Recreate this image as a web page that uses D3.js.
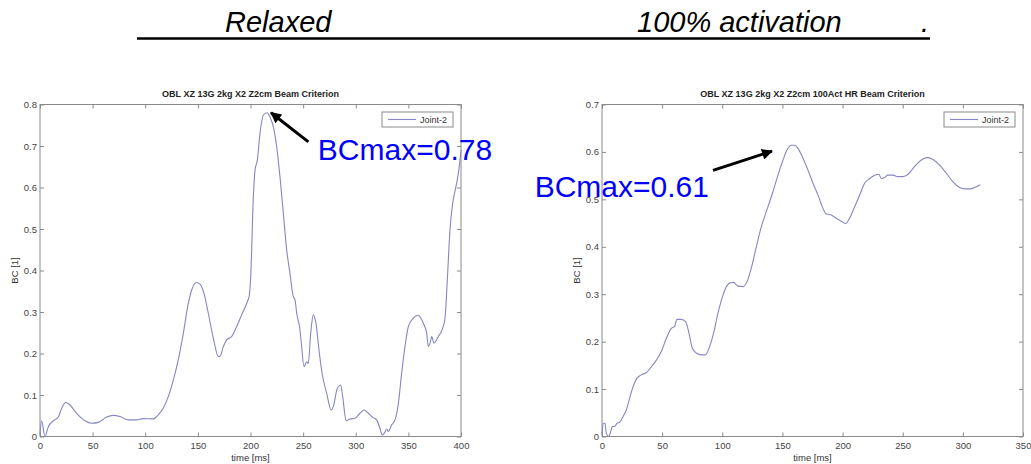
<!DOCTYPE html>
<html>
<head>
<meta charset="utf-8">
<script src="https://cdn.jsdelivr.net/npm/d3@7"></script>
<style>
  body { margin: 0; background: #fff; }
  svg { display: block; font-family: Arial, "Liberation Sans", sans-serif; }
</style>
</head>
<body>
<div id="chart"></div>
<script>
// Beam criterion (BC) vs time

var relaxedTime = [0, 1.5, 4.7, 8, 12.7, 17.4, 20.6, 24.4, 28.5, 34.8, 42.8, 49, 55.4, 63.3, 69.7, 76, 84, 91.8, 98, 107.7,
    112.4, 117, 121.9, 126.7, 131.4, 136.2, 140.3, 144.1, 148.8, 152, 155.8, 159.9, 164.7, 169.4, 171, 174.2, 177.4, 182.1,
    186.9, 191.6, 196.4, 198.9, 200.2, 202.7, 204.3, 206.5, 209, 212.2, 215.4, 218.5, 221.7, 224.9, 228, 231.2, 234.4,
    237.5, 240.7, 242.3, 243.9, 247, 248.6, 250.8, 253.4, 254.9, 257.2, 259.7, 262.2, 265.4, 268.6, 272.4, 276.5, 278.7,
    282.5, 285.7, 287.6, 290.8, 294.5, 299.3, 304, 307.8, 312, 316.1, 319.9, 322.4, 325.3, 327.2, 329.4, 331, 334.1, 337.3,
    340.5, 343.6, 346.8, 350, 354.7, 359.4, 362, 364.2, 367.4, 369, 370.6, 372.2, 374.3, 378.5, 382.6, 384.8, 387,
    389.5, 392.1, 395.2, 397.5, 400];
var relaxedBC = [0.005, 0.038, 0.0, 0.024, 0.038, 0.047, 0.068, 0.082, 0.076, 0.056, 0.038, 0.032, 0.034, 0.047, 0.051,
    0.048, 0.04, 0.04, 0.043, 0.0425, 0.052, 0.068, 0.096, 0.136, 0.185, 0.249, 0.313, 0.353, 0.371, 0.367, 0.345, 0.297,
    0.237, 0.193, 0.193, 0.217, 0.233, 0.241, 0.265, 0.293, 0.321, 0.341, 0.385, 0.578, 0.642, 0.666, 0.73, 0.774, 0.78,
    0.77, 0.746, 0.698, 0.626, 0.538, 0.449, 0.393, 0.337, 0.329, 0.297, 0.257, 0.217, 0.168, 0.18, 0.176, 0.249, 0.293,
    0.273, 0.201, 0.144, 0.104, 0.064, 0.072, 0.116, 0.124, 0.096, 0.038, 0.042, 0.044, 0.056, 0.064, 0.056, 0.046, 0.04,
    0.024, 0.004, 0.008, 0.018, 0.012, 0.028, 0.04, 0.08, 0.152, 0.217, 0.265, 0.285, 0.292, 0.285, 0.273, 0.249, 0.217,
    0.225, 0.241, 0.225, 0.241, 0.261, 0.285, 0.377, 0.497, 0.562, 0.602, 0.634, 0.69];

var activeTime = [0, 1.1, 2.5, 3.6, 5.5, 6.9, 8.6, 10.5, 12.5, 14.7, 17.5, 20.2, 23, 25.8, 29.1, 32.7, 36.9, 41, 45.2,
    49.3, 53.5, 57.6, 60.4, 62.3, 65.9, 69.5, 72.3, 75.1, 78.4, 82.6, 85.9, 89.5, 92.8, 96.4, 100.6, 103.4, 106.7, 109.4,
    113, 117.2, 120.5, 124.1, 128.3, 132.4, 136.6, 142.1, 146.3, 150.5, 153.8, 157.4, 160.2, 163, 166.5, 171.2, 175.4,
    179.6, 183.7, 186.5, 190.6, 194.8, 199, 202.6, 205.8, 210, 214.2, 218.3, 222.5, 226.7, 230.2, 232.2, 235, 237.7,
    241.9, 246, 250.2, 254.4, 258.5, 262.7, 266.9, 271, 275.2, 280.7, 286.3, 291.8, 297.3, 301.5, 305.6, 309.8, 314.5];
var activeBC = [0.0035, 0.028, 0.028, 0.007, 0, 0.007, 0.021, 0.021, 0.028, 0.03, 0.042, 0.056, 0.081, 0.105, 0.123, 0.13,
    0.135, 0.147, 0.161, 0.179, 0.207, 0.228, 0.232, 0.247, 0.247, 0.242, 0.218, 0.186, 0.176, 0.172, 0.172, 0.19, 0.218,
    0.26, 0.298, 0.316, 0.324, 0.325, 0.317, 0.316, 0.326, 0.355, 0.4, 0.442, 0.474, 0.516, 0.551, 0.583, 0.604, 0.614,
    0.614, 0.607, 0.59, 0.562, 0.534, 0.509, 0.481, 0.469, 0.467, 0.46, 0.454, 0.449, 0.46, 0.484, 0.509, 0.534, 0.544,
    0.551, 0.553, 0.544, 0.546, 0.551, 0.551, 0.548, 0.548, 0.553, 0.565, 0.577, 0.585, 0.588, 0.584, 0.572, 0.555,
    0.537, 0.525, 0.522, 0.522, 0.525, 0.531];

var relaxedXTicks = [0, 50, 100, 150, 200, 250, 300, 350, 400];
var relaxedYTicks = [0, 0.1, 0.2, 0.3, 0.4, 0.5, 0.6, 0.7, 0.8];
var activeXTicks = [0, 50, 100, 150, 200, 250, 300, 350];
var activeYTicks = [0, 0.1, 0.2, 0.3, 0.4, 0.5, 0.6, 0.7];

var headerLabels = ['Relaxed', '100% activation', '.'];
var chartTitles = ['OBL XZ 13G 2kg X2 Z2cm Beam Criterion', 'OBL XZ 13G 2kg X2 Z2cm 100Act HR Beam Criterion'];
var peakLabels = ['BCmax=0.78', 'BCmax=0.61'];
var legendLabel = 'Joint-2';

var W = 1031, H = 464;
var lineColor = '#8686c4';
var svg = d3.select('#chart').append('svg').attr('width', W).attr('height', H);

svg.append('defs').append('marker')
    .attr('id', 'arrowhead')
    .attr('viewBox', '0 0 10 10')
    .attr('refX', 9).attr('refY', 5)
    .attr('markerWidth', 13).attr('markerHeight', 11)
    .attr('markerUnits', 'userSpaceOnUse')
    .attr('orient', 'auto')
    .append('path').attr('d', 'M0,0 L10,5 L0,10 Z').attr('fill', '#000');

// Header with underline
var header = svg.append('g').attr('font-style', 'italic').attr('font-size', '29px').attr('fill', '#000');
header.append('text').attr('x', 225).attr('y', 32).text(headerLabels[0]);
header.append('text').attr('x', 637).attr('y', 32).text(headerLabels[1]);
header.append('text').attr('x', 921).attr('y', 32).text(headerLabels[2]);
svg.append('line').attr('x1', 137).attr('x2', 930).attr('y1', 38.5).attr('y2', 38.5)
    .attr('stroke', '#000').attr('stroke-width', 2.5);

function drawPanel(opt) {
    var left = opt.left, right = opt.right, top = 104.5, bottom = 436.5;
    var x = d3.scaleLinear().domain(opt.xDomain).range([left, right]);
    var y = d3.scaleLinear().domain(opt.yDomain).range([bottom, top]);
    var g = svg.append('g');

    g.append('rect')
        .attr('x', left).attr('y', top).attr('width', right - left).attr('height', bottom - top)
        .attr('fill', '#fff').attr('stroke', '#8a8a8a').attr('stroke-width', 1);

    function styleAxis(sel) {
        sel.select('.domain').remove();
        sel.selectAll('.tick line').attr('stroke', '#8a8a8a');
        sel.selectAll('text').attr('fill', '#444').attr('font-size', '9.5px').attr('font-family', 'Arial, "Liberation Sans", sans-serif');
    }

    g.append('g').attr('transform', 'translate(0,' + bottom + ')')
        .call(d3.axisBottom(x).tickValues(opt.xTicks).tickSizeInner(-4).tickSizeOuter(0).tickPadding(6).tickFormat(String))
        .call(styleAxis);
    g.append('g').attr('transform', 'translate(0,' + top + ')')
        .call(d3.axisTop(x).tickValues(opt.xTicks).tickSizeInner(-4).tickSizeOuter(0).tickFormat(''))
        .call(styleAxis);
    g.append('g').attr('transform', 'translate(' + left + ',0)')
        .call(d3.axisLeft(y).tickValues(opt.yTicks).tickSizeInner(-4).tickSizeOuter(0).tickPadding(3).tickFormat(String))
        .call(styleAxis);
    g.append('g').attr('transform', 'translate(' + right + ',0)')
        .call(d3.axisRight(y).tickValues(opt.yTicks).tickSizeInner(-4).tickSizeOuter(0).tickFormat(''))
        .call(styleAxis);

    // Title and axis labels
    g.append('text').attr('x', (left + right) / 2).attr('y', 97)
        .attr('text-anchor', 'middle').attr('font-size', '9px').attr('font-weight', 'bold').attr('fill', '#222')
        .text(opt.title);
    g.append('text').attr('x', (left + right) / 2).attr('y', 461)
        .attr('text-anchor', 'middle').attr('font-size', '9.5px').attr('fill', '#333')
        .text('time [ms]');
    g.append('text').attr('transform', 'translate(' + (left - 22) + ',' + ((top + bottom) / 2) + ') rotate(-90)')
        .attr('text-anchor', 'middle').attr('font-size', '9.5px').attr('fill', '#333')
        .text('BC [1]');

    // Series
    var pts = opt.time.map(function (t, i) { return [t, opt.bc[i]]; });
    g.append('path')
        .datum(pts)
        .attr('fill', 'none')
        .attr('stroke', lineColor)
        .attr('stroke-width', 1.1)
        .attr('d', d3.line().x(function (d) { return x(d[0]); }).y(function (d) { return y(d[1]); }).curve(d3.curveMonotoneX));

    // Legend
    var lx = right - 79, ly = 112;
    g.append('rect').attr('x', lx).attr('y', ly).attr('width', 71).attr('height', 15)
        .attr('fill', '#fff').attr('stroke', '#8a8a8a').attr('stroke-width', 1);
    g.append('line').attr('x1', lx + 6).attr('x2', lx + 34).attr('y1', ly + 7.5).attr('y2', ly + 7.5)
        .attr('stroke', lineColor).attr('stroke-width', 1.1);
    g.append('text').attr('x', lx + 38).attr('y', ly + 11).attr('font-size', '9px').attr('fill', '#333')
        .text(legendLabel);

    // Peak annotation
    g.append('line')
        .attr('x1', x(opt.arrow[0])).attr('y1', y(opt.arrow[1]))
        .attr('x2', x(opt.arrow[2])).attr('y2', y(opt.arrow[3]))
        .attr('stroke', '#000').attr('stroke-width', 3)
        .attr('marker-end', 'url(#arrowhead)');
    g.append('text').attr('x', x(opt.labelAt[0])).attr('y', y(opt.labelAt[1]))
        .attr('font-size', '30px').attr('fill', '#0000ff')
        .text(opt.label);
}

drawPanel({
    left: 40, right: 461,
    xDomain: [0, 400], yDomain: [0, 0.8],
    xTicks: relaxedXTicks, yTicks: relaxedYTicks,
    time: relaxedTime, bc: relaxedBC,
    title: chartTitles[0], label: peakLabels[0],
    arrow: [255, 0.71, 219.5, 0.78],
    labelAt: [264, 0.666]
});

drawPanel({
    left: 602, right: 1023,
    xDomain: [0, 350], yDomain: [0, 0.7],
    xTicks: activeXTicks, yTicks: activeYTicks,
    time: activeTime, bc: activeBC,
    title: chartTitles[1], label: peakLabels[1],
    arrow: [92.3, 0.561, 141.3, 0.6016],
    labelAt: [-56, 0.504]
});
</script>
</body>
</html>
